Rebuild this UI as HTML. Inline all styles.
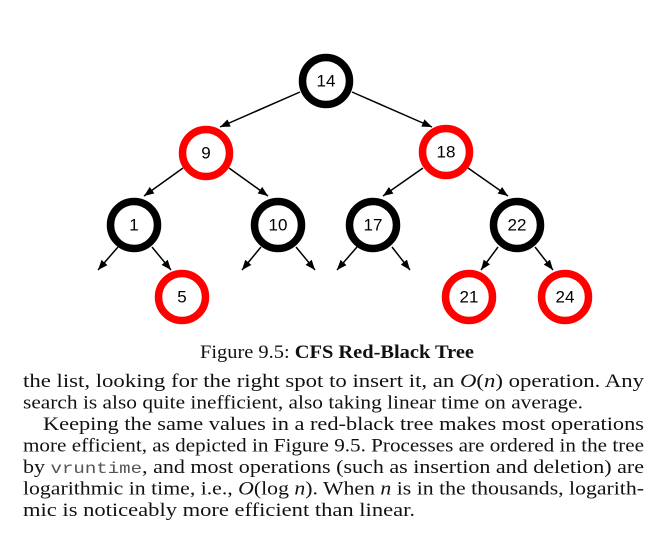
<!DOCTYPE html>
<html><head><meta charset="utf-8"><style>
html,body{margin:0;padding:0;background:#fff;}
svg{display:block;}
.n{font-family:"Liberation Sans",sans-serif;font-size:17px;text-anchor:middle;dominant-baseline:central;fill:#000;}
.t{font-family:"Liberation Serif",serif;font-size:18.5px;fill:#111;}
.m{font-family:"Liberation Mono",monospace;font-size:16px;fill:#555;}
</style></head><body>
<svg width="665" height="539" viewBox="0 0 665 539" xmlns="http://www.w3.org/2000/svg">
<defs><marker id="a" markerWidth="10" markerHeight="8" refX="10" refY="4" orient="auto" markerUnits="userSpaceOnUse"><path d="M0,0 L10,4 L0,8 z" fill="#000"/></marker></defs>
<g stroke="#000" stroke-width="1.5" marker-end="url(#a)">
<line x1="300" y1="92" x2="220" y2="127"/>
<line x1="352" y1="92" x2="432" y2="127"/>
<line x1="183" y1="168" x2="144" y2="196"/>
<line x1="229" y1="168" x2="268" y2="196"/>
<line x1="423" y1="168" x2="383" y2="196"/>
<line x1="468" y1="168" x2="508" y2="196"/>
<line x1="118" y1="247" x2="98" y2="270"/>
<line x1="152" y1="247" x2="171" y2="270"/>
<line x1="261" y1="247" x2="242" y2="270"/>
<line x1="296" y1="247" x2="315" y2="270"/>
<line x1="357" y1="247" x2="337" y2="270"/>
<line x1="392" y1="247" x2="410" y2="270"/>
<line x1="498" y1="247" x2="481" y2="270"/>
<line x1="535" y1="247" x2="553" y2="270"/>
</g>
<g fill="#fff" stroke-width="7.5">
<circle cx="326" cy="81" r="23.5" stroke="#000"/>
<circle cx="206" cy="153" r="23.5" stroke="#f00"/>
<circle cx="446" cy="152" r="23.5" stroke="#f00"/>
<circle cx="134" cy="225" r="23.5" stroke="#000"/>
<circle cx="278" cy="225" r="23.5" stroke="#000"/>
<circle cx="373" cy="225" r="23.5" stroke="#000"/>
<circle cx="517" cy="225" r="23.5" stroke="#000"/>
<circle cx="182" cy="297" r="23.5" stroke="#f00"/>
<circle cx="469" cy="297" r="23.5" stroke="#f00"/>
<circle cx="565" cy="297" r="23.5" stroke="#f00"/>
</g>
<text class="n" x="326" y="81">14</text>
<text class="n" x="206" y="153">9</text>
<text class="n" x="446" y="152">18</text>
<text class="n" x="134" y="225">1</text>
<text class="n" x="278" y="225">10</text>
<text class="n" x="373" y="225">17</text>
<text class="n" x="517" y="225">22</text>
<text class="n" x="182" y="297">5</text>
<text class="n" x="469" y="297">21</text>
<text class="n" x="565" y="297">24</text>

<text class="t" x="200" y="358" textLength="274" lengthAdjust="spacingAndGlyphs">Figure 9.5: <tspan font-weight="bold">CFS Red-Black Tree</tspan></text>
<text class="t" x="23" y="387" textLength="621" lengthAdjust="spacingAndGlyphs">the list, looking for the right spot to insert it, an <tspan font-style="italic">O</tspan>(<tspan font-style="italic">n</tspan>) operation.  Any</text>
<text class="t" x="23" y="408.5" textLength="560" lengthAdjust="spacingAndGlyphs">search is also quite inefficient, also taking linear time on average.</text>
<text class="t" x="43" y="430" textLength="601" lengthAdjust="spacingAndGlyphs">Keeping the same values in a red-black tree makes most operations</text>
<text class="t" x="23" y="451.5" textLength="621" lengthAdjust="spacingAndGlyphs">more efficient, as depicted in Figure 9.5. Processes are ordered in the tree</text>
<text class="t" x="23" y="473" textLength="621" lengthAdjust="spacingAndGlyphs">by <tspan class="m">vruntime</tspan>, and most operations (such as insertion and deletion) are</text>
<text class="t" x="23" y="494.5" textLength="621" lengthAdjust="spacingAndGlyphs">logarithmic in time, i.e., <tspan font-style="italic">O</tspan>(log <tspan font-style="italic">n</tspan>).  When <tspan font-style="italic">n</tspan> is in the thousands, logarith-</text>
<text class="t" x="23" y="516" textLength="392" lengthAdjust="spacingAndGlyphs">mic is noticeably more efficient than linear.</text>
</svg>
</body></html>
